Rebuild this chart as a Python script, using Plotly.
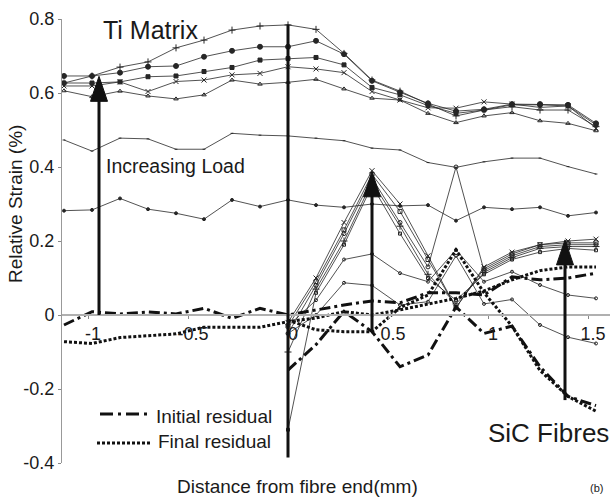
import plotly.graph_objects as go

# ---------------- data ----------------
x_ti = [-1.12, -0.98, -0.84, -0.70, -0.56, -0.42, -0.28, -0.14, 0.0,
        0.14, 0.28, 0.42, 0.56, 0.70, 0.84, 0.98, 1.12, 1.26, 1.40, 1.54]
x_sic = [0.0, 0.14, 0.28, 0.42, 0.56, 0.70, 0.84, 0.98, 1.12, 1.26, 1.40, 1.54]

ti_load1 = [0.627, 0.646, 0.670, 0.684, 0.722, 0.743, 0.770, 0.781, 0.784, 0.772, 0.707, 0.635, 0.605, 0.570, 0.538, 0.554, 0.563, 0.554, 0.554, 0.509]
ti_load2 = [0.646, 0.646, 0.655, 0.671, 0.673, 0.698, 0.714, 0.725, 0.725, 0.741, 0.705, 0.633, 0.602, 0.572, 0.551, 0.556, 0.570, 0.570, 0.568, 0.518]
ti_load3 = [0.627, 0.627, 0.630, 0.644, 0.646, 0.658, 0.669, 0.689, 0.693, 0.696, 0.676, 0.615, 0.595, 0.566, 0.545, 0.554, 0.568, 0.568, 0.565, 0.514]
ti_load4 = [0.619, 0.619, 0.630, 0.604, 0.631, 0.635, 0.649, 0.653, 0.671, 0.665, 0.655, 0.604, 0.581, 0.560, 0.559, 0.576, 0.570, 0.561, 0.565, 0.505]
ti_load5 = [0.606, 0.590, 0.605, 0.592, 0.584, 0.595, 0.635, 0.624, 0.629, 0.637, 0.611, 0.586, 0.581, 0.545, 0.520, 0.538, 0.547, 0.525, 0.518, 0.498]
ti_load6 = [0.473, 0.443, 0.478, 0.476, 0.448, 0.448, 0.491, 0.486, 0.484, 0.478, 0.471, 0.451, 0.446, 0.412, 0.399, 0.414, 0.424, 0.424, 0.401, 0.381]
ti_load7 = [0.282, 0.284, 0.315, 0.286, 0.275, 0.259, 0.311, 0.293, 0.311, 0.297, 0.291, 0.300, 0.295, 0.297, 0.255, 0.291, 0.286, 0.291, 0.268, 0.277]

ti_initial_residual = [-0.027, 0.009, 0.003, 0.008, 0.003, 0.018, -0.009, 0.018, 0.0,
                       0.014, 0.027, 0.038, 0.033, 0.060, 0.060, 0.054, 0.103, 0.095, 0.100, 0.113]
ti_final_residual = [-0.072, -0.077, -0.061, -0.057, -0.051, -0.033, -0.033, -0.033, -0.018,
                     -0.008, 0.009, 0.000, 0.014, 0.030, 0.045, 0.065, 0.095, 0.120, 0.130, 0.130]

sic_load1 = [-0.02, 0.10, 0.25, 0.39, 0.30, 0.16, 0.02, 0.13, 0.17, 0.19, 0.20, 0.205]
sic_load2 = [-0.03, 0.09, 0.23, 0.38, 0.28, 0.15, 0.02, 0.125, 0.165, 0.19, 0.195, 0.195]
sic_load3 = [-0.05, 0.08, 0.22, 0.37, 0.25, 0.13, 0.40, 0.12, 0.16, 0.185, 0.19, 0.19]
sic_load4 = [-0.10, 0.07, 0.20, 0.36, 0.24, 0.11, 0.03, 0.115, 0.155, 0.18, 0.185, 0.185]
sic_load5 = [-0.31, 0.06, 0.19, 0.35, 0.22, 0.10, 0.04, 0.11, 0.15, 0.17, 0.18, 0.175]
sic_load6 = [-0.03, 0.04, 0.15, 0.165, 0.113, 0.09, 0.176, 0.09, 0.117, 0.081, 0.054, 0.045]
sic_load7 = [-0.05, 0.00, 0.087, 0.08, 0.027, 0.036, 0.16, 0.03, 0.042, -0.027, -0.06, -0.077]

sic_initial_residual = [-0.149, -0.08, 0.01, -0.045, -0.14, -0.108, 0.022, -0.05, -0.03, -0.14, -0.22, -0.245]
sic_final_residual = [-0.014, -0.04, -0.045, -0.045, 0.02, 0.054, 0.176, 0.06, -0.03, -0.15, -0.22, -0.26]

x_ticks = [-1, -0.5, 0, 0.5, 1, 1.5]
x_tick_labels = ["-1", "-0.5", "0", "0.5", "1", "1.5"]
y_ticks = [-0.4, -0.2, 0, 0.2, 0.4, 0.6, 0.8]
y_tick_labels = ["-0.4", "-0.2", "0", "0.2", "0.4", "0.6", "0.8"]

# arrows: (x, y_start, y_tip)
load_arrows = [(-0.945, 0.0, 0.645), (0.42, -0.045, 0.387), (1.385, -0.23, 0.203)]

# ---------------- layout geometry ----------------
W, H = 610, 501
ML, MR, MT, MB = 62, 0, 19, 38
X0, X1 = -1.13, 1.61
Y0, Y1 = -0.4, 0.8
PW, PH = W - ML - MR, H - MT - MB

def px(xp):
    return (xp - ML) / PW

def py(yp):
    return (H - MB - yp) / PH

FONT = "Liberation Sans, Arial, sans-serif"
INK = "#1a1a1a"

fig = go.Figure()

thin = dict(color="#262626", width=0.8)
ti_series = [
    (ti_load1, "cross-thin-open", 5),
    (ti_load2, "circle", 5),
    (ti_load3, "square", 4),
    (ti_load4, "x-thin-open", 5),
    (ti_load5, "triangle-up-open", 4),
    (ti_load6, "line-ew", 2),
    (ti_load7, "circle", 3),
]
for ys, sym, sz in ti_series:
    fig.add_trace(go.Scatter(x=x_ti, y=ys, mode="lines+markers", line=thin,
                             marker=dict(symbol=sym, size=sz, color="#262626",
                                         line=dict(color="#262626", width=1)),
                             showlegend=False, hoverinfo="skip"))

sic_series = [
    (sic_load1, "x-thin-open", 5),
    (sic_load2, "square-open", 4),
    (sic_load3, "circle-open", 4),
    (sic_load4, "cross-thin-open", 5),
    (sic_load5, "square-open", 3),
    (sic_load6, "circle-open", 3),
    (sic_load7, "circle-open", 3),
]
for ys, sym, sz in sic_series:
    fig.add_trace(go.Scatter(x=x_sic, y=ys, mode="lines+markers", line=thin,
                             marker=dict(symbol=sym, size=sz, color="#262626",
                                         line=dict(color="#262626", width=1)),
                             showlegend=False, hoverinfo="skip"))

DASHDOT = "11px,4px,3px,4px"
DOT = "3px,2px"
for xs, ys, dash in [(x_ti, ti_initial_residual, DASHDOT), (x_sic, sic_initial_residual, DASHDOT),
                     (x_ti, ti_final_residual, DOT), (x_sic, sic_final_residual, DOT)]:
    fig.add_trace(go.Scatter(x=xs, y=ys, mode="lines",
                             line=dict(color="#111", width=3, dash=dash),
                             showlegend=False, hoverinfo="skip"))

shapes = []
# fibre end thick line
shapes.append(dict(type="line", xref="x", yref="y", x0=0, x1=0, y0=-0.385, y1=0.785,
                   line=dict(color="#111", width=3)))
# load arrows
hw = 8.5 / (PW / (X1 - X0))
hl = 25 / (PH / (Y1 - Y0))
for ax, y0, yt in load_arrows:
    shapes.append(dict(type="line", xref="x", yref="y", x0=ax, x1=ax, y0=y0, y1=yt - hl * 0.5,
                       line=dict(color="#111", width=3)))
    shapes.append(dict(type="path", xref="x", yref="y",
                       path=f"M {ax - hw} {yt - hl} L {ax} {yt} L {ax + hw} {yt - hl} Z",
                       fillcolor="#111", line=dict(color="#111", width=1)))
# legend samples
shapes.append(dict(type="line", xref="paper", yref="paper", x0=px(100), x1=px(149),
                   y0=py(414), y1=py(414), line=dict(color="#111", width=3, dash="13px,5px,3px,5px")))
shapes.append(dict(type="line", xref="paper", yref="paper", x0=px(97), x1=px(151),
                   y0=py(443), y1=py(443), line=dict(color="#111", width=3, dash=DOT)))

annotations = [
    dict(text="Ti Matrix", x=px(101), y=py(30), xanchor="left", yanchor="middle", font=dict(size=25)),
    dict(text="SiC Fibres", x=px(486), y=py(433), xanchor="left", yanchor="middle", font=dict(size=26)),
    dict(text="Increasing Load", x=px(104), y=py(166), xanchor="left", yanchor="middle", font=dict(size=19.5)),
    dict(text="Initial residual", x=px(154), y=py(416), xanchor="left", yanchor="middle", font=dict(size=19)),
    dict(text="Final residual", x=px(156), y=py(441), xanchor="left", yanchor="middle", font=dict(size=19)),
    dict(text="Relative Strain (%)", x=px(16), y=py(204), xanchor="center", yanchor="middle",
         textangle=-90, font=dict(size=19)),
    dict(text="Distance from fibre end(mm)", x=px(297), y=py(487), xanchor="center", yanchor="middle",
         font=dict(size=19)),
    dict(text="(b)", x=px(596), y=py(488), xanchor="center", yanchor="middle", font=dict(size=11)),
]
for a in annotations:
    a.update(xref="paper", yref="paper", showarrow=False)
    a["font"].update(family=FONT, color=INK)

fig.update_layout(
    width=W, height=H,
    margin=dict(l=ML, r=MR, t=MT, b=MB, pad=0),
    paper_bgcolor="white", plot_bgcolor="white",
    font=dict(family=FONT, color=INK),
    shapes=shapes, annotations=annotations,
    xaxis=dict(range=[X0, X1], tickvals=x_ticks, ticktext=x_tick_labels,
               showgrid=False, zeroline=False, showline=True, linecolor="#b0b0b0", linewidth=1.5,
               ticks="outside", ticklen=3, tickcolor="#888", tickfont=dict(size=18, color=INK),
               ticklabelshift=5,
               anchor="free", position=(0 - Y0) / (Y1 - Y0)),
    yaxis=dict(range=[Y0, Y1], tickvals=y_ticks, ticktext=y_tick_labels,
               showgrid=False, zeroline=False, showline=True, linecolor="#999", linewidth=1,
               ticks="outside", ticklen=3, tickcolor="#888", tickfont=dict(size=18, color=INK)),
    showlegend=False,
)

fig.write_html("out.html")
